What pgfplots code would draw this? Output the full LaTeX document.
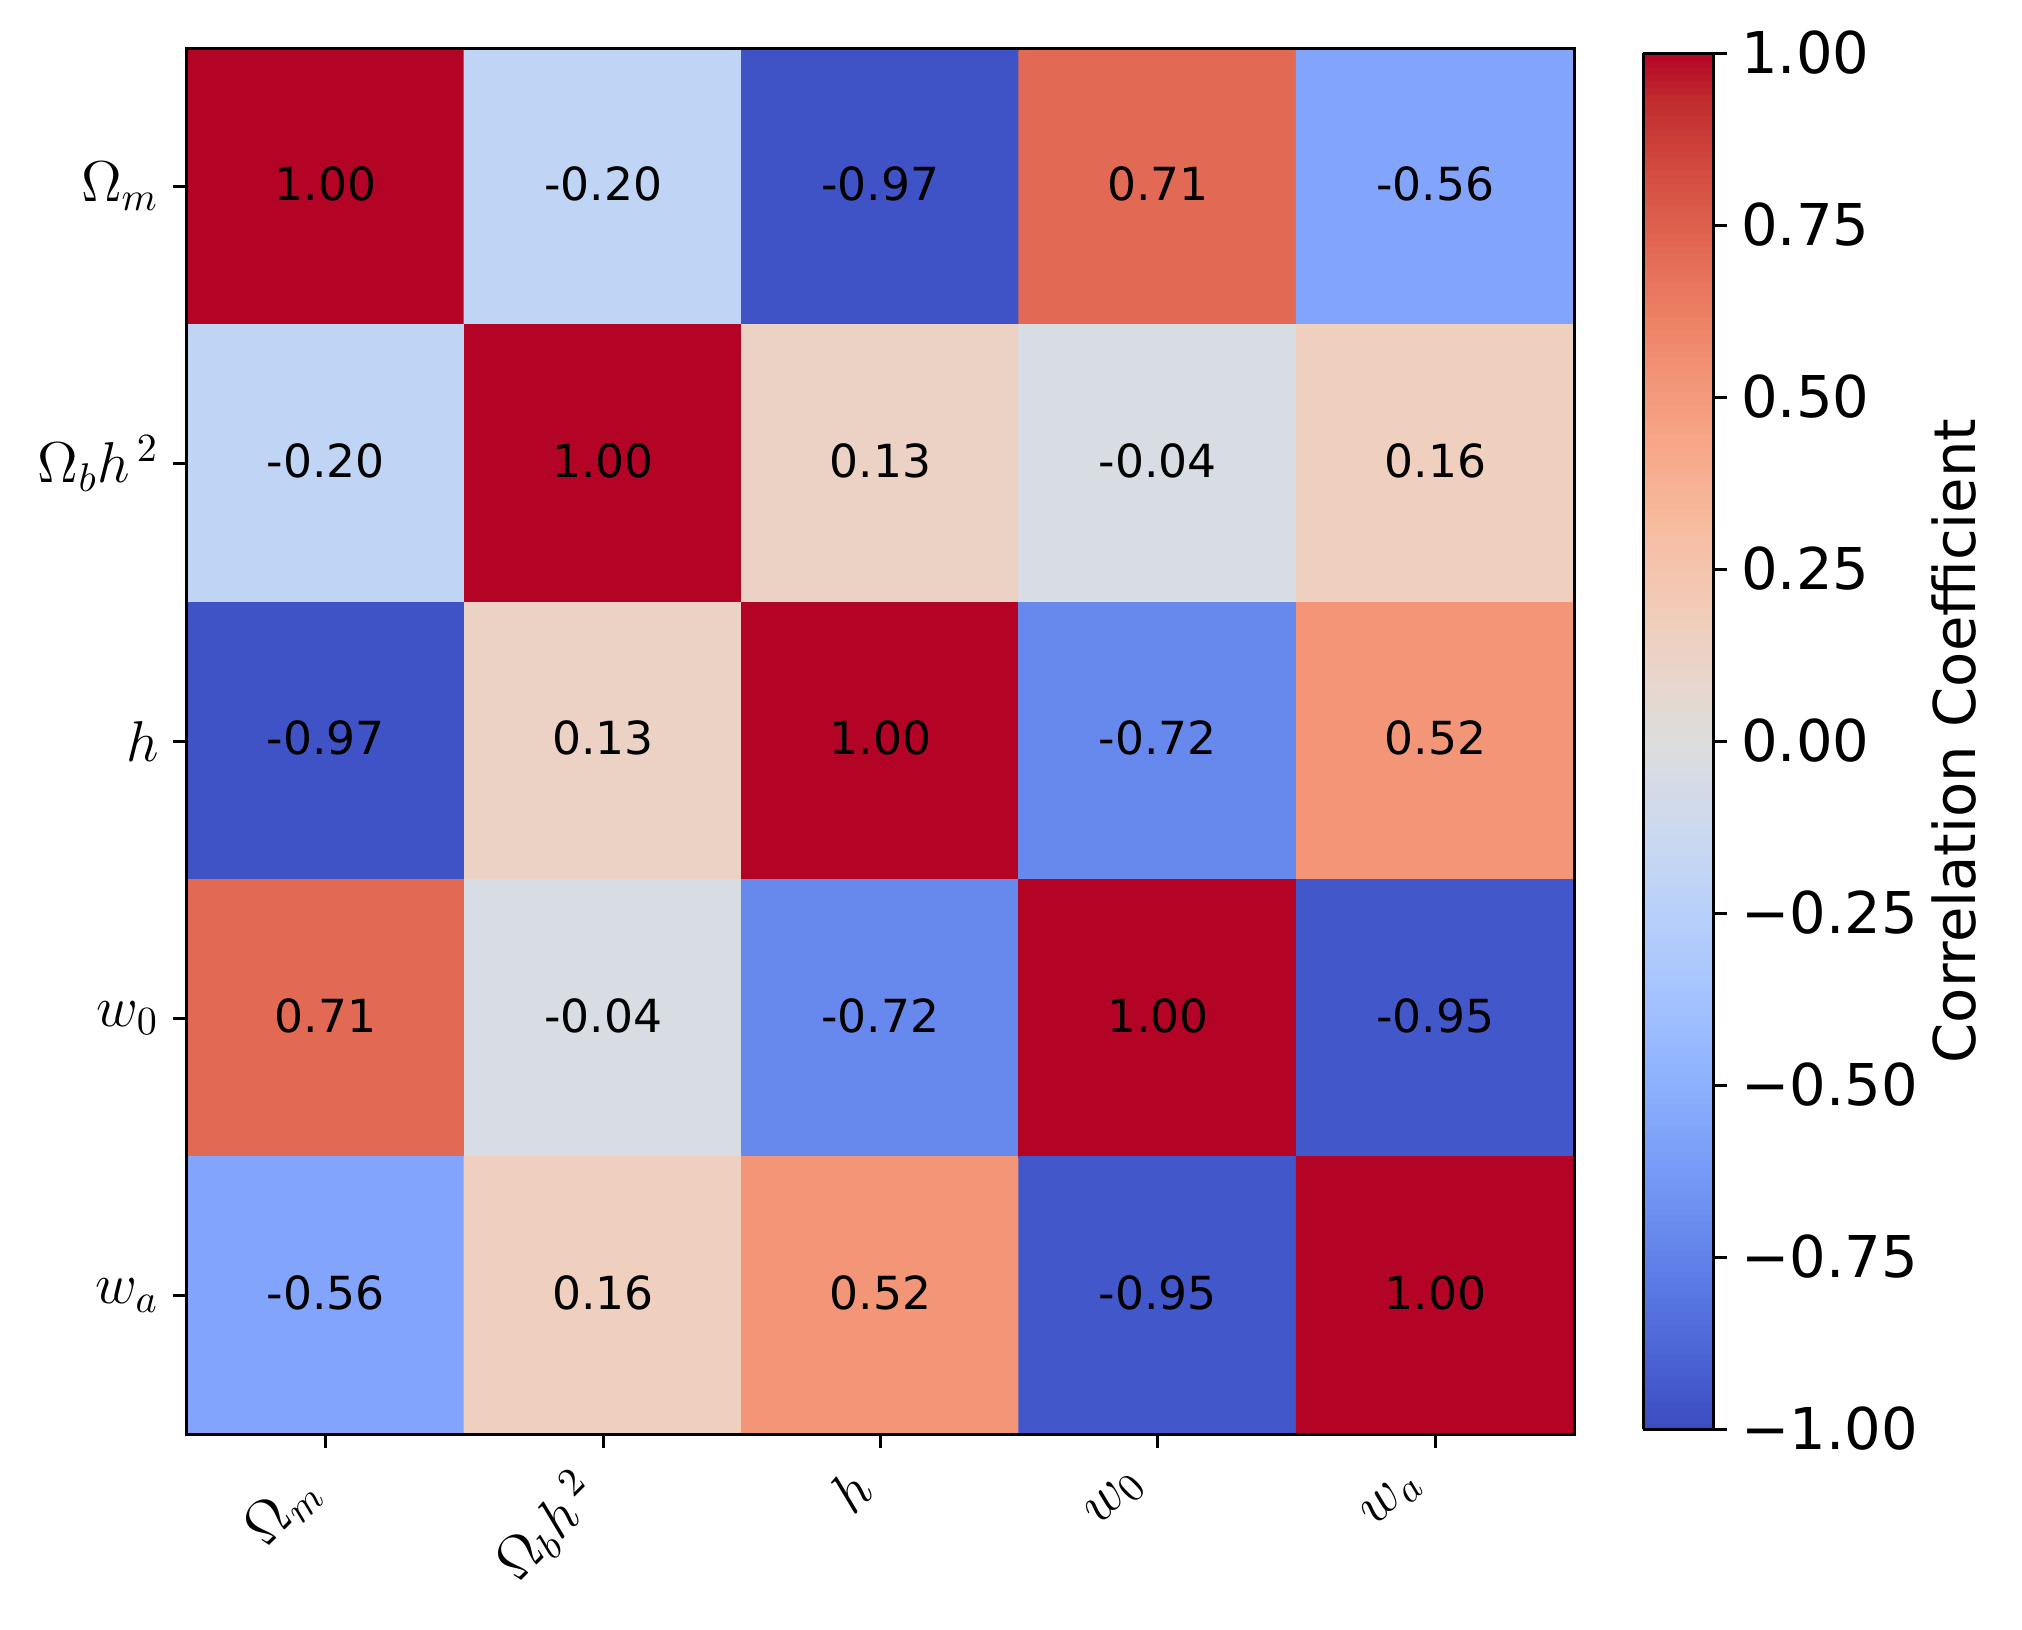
\documentclass[border=0pt]{standalone}
\usepackage{pgfplots}
\pgfplotsset{compat=1.18}
\usepackage{pgfplotstable}
\usepackage{fontspec}
\setmainfont{DejaVu Sans}

\pgfplotstableread{
x y c lab
0 0 1.00 1.00
1 0 -0.20 -0.20
2 0 -0.97 -0.97
3 0 0.71 0.71
4 0 -0.56 -0.56
0 1 -0.20 -0.20
1 1 1.00 1.00
2 1 0.13 0.13
3 1 -0.04 -0.04
4 1 0.16 0.16
0 2 -0.97 -0.97
1 2 0.13 0.13
2 2 1.00 1.00
3 2 -0.72 -0.72
4 2 0.52 0.52
0 3 0.71 0.71
1 3 -0.04 -0.04
2 3 -0.72 -0.72
3 3 1.00 1.00
4 3 -0.95 -0.95
0 4 -0.56 -0.56
1 4 0.16 0.16
2 4 0.52 0.52
3 4 -0.95 -0.95
4 4 1.00 1.00
}\corr

\pgfplotsset{
  colormap={coolwarm}{
    rgb255=(59,76,192) rgb255=(68,90,204) rgb255=(77,104,215) rgb255=(87,117,225)
    rgb255=(98,130,234) rgb255=(108,142,241) rgb255=(119,154,247) rgb255=(130,165,251)
    rgb255=(141,176,254) rgb255=(152,185,255) rgb255=(163,194,255) rgb255=(174,201,253)
    rgb255=(184,208,249) rgb255=(194,213,244) rgb255=(204,217,238) rgb255=(213,219,230)
    rgb255=(221,221,221) rgb255=(229,216,209) rgb255=(236,211,197) rgb255=(241,204,185)
    rgb255=(245,196,173) rgb255=(247,187,160) rgb255=(247,177,148) rgb255=(247,166,135)
    rgb255=(244,154,123) rgb255=(241,141,111) rgb255=(236,127,99) rgb255=(229,112,88)
    rgb255=(222,96,77) rgb255=(213,80,66) rgb255=(203,62,56) rgb255=(192,40,47)
    rgb255=(180,4,38)
  }
}

\begin{document}
\begin{tikzpicture}
\begin{axis}[
  name=main,
  scale only axis,
  width=346.75pt, height=346.5pt,
  xmin=-0.5, xmax=4.5, ymin=-0.5, ymax=4.5,
  y dir=reverse,
  enlargelimits=false,
  axis on top,
  colormap name=coolwarm,
  point meta min=-1, point meta max=1,
  xtick={0,1,2,3,4}, ytick={0,1,2,3,4},
  xticklabels={$\Omega_m$,$\Omega_b h^{\,2}$,$h$,$w_0$,$w_a$},
  yticklabels={$\Omega_m$,$\Omega_b h^{\,2}$,$h$,$w_0$,$w_a$},
  tick pos=left,
  tick align=outside,
  major tick length=3.5pt,
  every tick/.style={black, line width=0.75pt},
  axis line style={line width=0.75pt},
  ticklabel style={font=\fontsize{14.4}{17}\selectfont},
  xticklabel style={xshift=-8pt, yshift=-4pt, rotate=45, anchor=north east, inner sep=0pt},
  colorbar sampled,
  colorbar right,
  colorbar style={
    at={(parent axis.north east)}, anchor=north west,
    xshift=8.75pt, yshift=-1.25pt,
    scale only axis,
    width=17.5pt, height=344pt,
    samples=200,
    ymin=-1, ymax=1,
    ytick={-1,-0.75,-0.5,-0.25,0,0.25,0.5,0.75,1},
    yticklabels={−1.00,−0.75,−0.50,−0.25,0.00,0.25,0.50,0.75,1.00},
    ytick pos=right, yticklabel pos=right,
    tick align=outside,
    major tick length=3.5pt,
    every tick/.style={black, line width=0.75pt},
    axis line style={line width=0.75pt},
    yticklabel style={font=\fontsize{14.4}{17}\selectfont},
    ylabel={Correlation Coefficient},
    ylabel style={font=\fontsize{14.4}{17}\selectfont},
    ylabel shift=-3.5pt,
  },
]
\addplot[matrix plot*, mesh/cols=5, point meta=explicit] table[x=x, y=y, meta=c] {\corr};
\addplot[draw=none, mark=none, point meta=explicit symbolic,
  nodes near coords={\pgfplotspointmeta},
  every node near coord/.style={anchor=center, yshift=0.7pt, text=black, font=\fontsize{11.4}{14}\selectfont}]
  table[x=x, y=y, meta=lab] {\corr};
\end{axis}
\pgfresetboundingbox
\path ([shift={(-46.75pt,-48.75pt)}]main.south west) rectangle ([shift={(112pt,12pt)}]main.north east);
\end{tikzpicture}
\end{document}
